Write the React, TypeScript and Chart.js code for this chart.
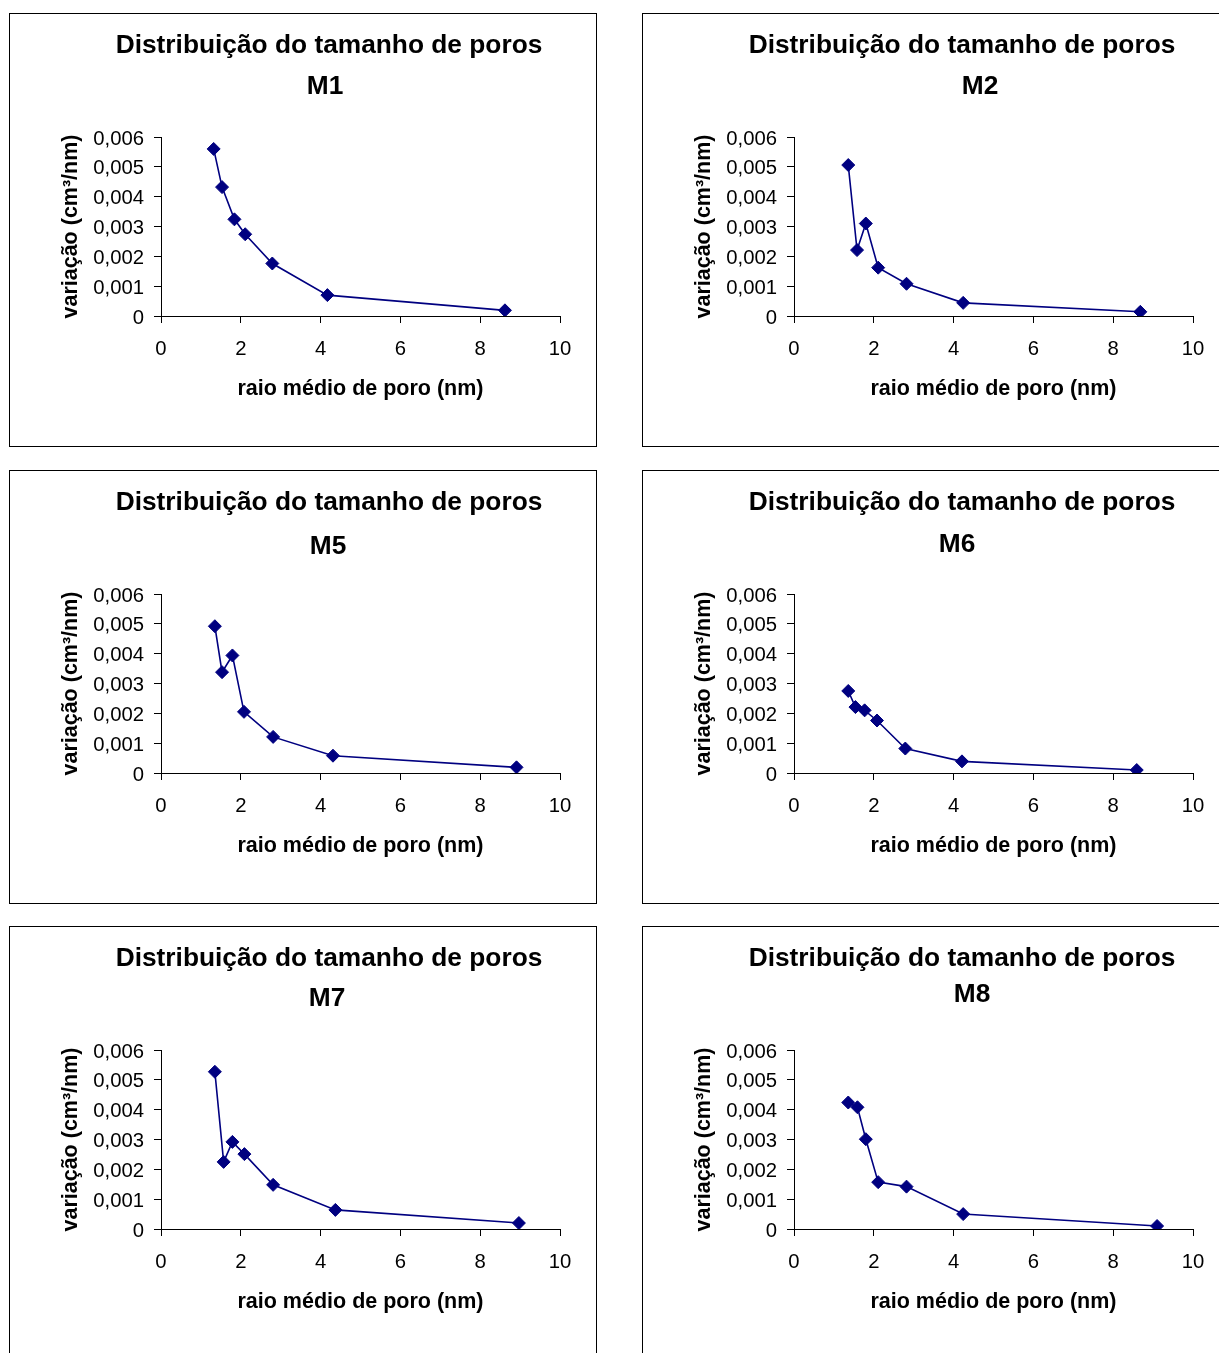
import { useEffect, useRef } from 'react';
import { Chart, registerables } from 'chart.js';

Chart.register(...registerables);

// Text
const CHART_TITLE = 'Distribuição do tamanho de poros';
const X_AXIS_LABEL = 'raio médio de poro (nm)';
const Y_AXIS_LABEL = 'variação (cm³/nm)';

// Axis ticks
const X_TICKS = [0, 2, 4, 6, 8, 10];
const Y_TICKS = [0, 0.001, 0.002, 0.003, 0.004, 0.005, 0.006];

// Mean pore radius (nm) and volume variation (cm³/nm) per sample
const m1Radius = [1.32, 1.53, 1.84, 2.11, 2.79, 4.17, 8.62];
const m1Variation = [0.0056, 0.00432, 0.00324, 0.00274, 0.00176, 0.0007, 0.00019];

const m2Radius = [1.36, 1.58, 1.8, 2.11, 2.82, 4.24, 8.68];
const m2Variation = [0.00506, 0.00221, 0.0031, 0.00162, 0.00108, 0.00044, 0.00014];

const m5Radius = [1.35, 1.53, 1.79, 2.08, 2.81, 4.31, 8.91];
const m5Variation = [0.00492, 0.00338, 0.00394, 0.00205, 0.00121, 0.00058, 0.00019];

const m6Radius = [1.36, 1.54, 1.77, 2.08, 2.79, 4.21, 8.59];
const m6Variation = [0.00275, 0.00221, 0.0021, 0.00176, 0.00082, 0.00039, 0.0001];

const m7Radius = [1.35, 1.57, 1.79, 2.09, 2.81, 4.37, 8.97];
const m7Variation = [0.00527, 0.00225, 0.00292, 0.00251, 0.00148, 0.00064, 0.0002];

const m8Radius = [1.36, 1.59, 1.8, 2.11, 2.82, 4.24, 9.1];
const m8Variation = [0.00424, 0.00408, 0.00301, 0.00157, 0.00142, 0.0005, 0.0001];

type Panel = {
  name: string;
  radius: number[];
  variation: number[];
  left: number;
  top: number;
  nameX: number;
  nameY: number;
};

const PANELS: Panel[] = [
  { name: 'M1', radius: m1Radius, variation: m1Variation, left: 9, top: 13, nameX: 315, nameY: 80 },
  { name: 'M2', radius: m2Radius, variation: m2Variation, left: 642, top: 13, nameX: 337, nameY: 80 },
  { name: 'M5', radius: m5Radius, variation: m5Variation, left: 9, top: 470, nameX: 318, nameY: 83 },
  { name: 'M6', radius: m6Radius, variation: m6Variation, left: 642, top: 470, nameX: 314, nameY: 81 },
  { name: 'M7', radius: m7Radius, variation: m7Variation, left: 9, top: 926, nameX: 317, nameY: 79 },
  { name: 'M8', radius: m8Radius, variation: m8Variation, left: 642, top: 926, nameX: 329, nameY: 75 },
];

const CANVAS_W = 586;
const CANVAS_H = 432;
const NAVY = '#000080';
const FONT = '"Liberation Sans", Arial, Helvetica, sans-serif';

// Draws the two-line title (main text + sample name) at fixed spots
const panelTitlePlugin = {
  id: 'panelTitle',
  afterDraw(chart: any, _args: any, opts: any) {
    const ctx: CanvasRenderingContext2D = chart.ctx;
    ctx.save();
    ctx.fillStyle = '#000';
    ctx.font = `bold 26.3px ${FONT}`;
    ctx.textAlign = 'center';
    ctx.textBaseline = 'alphabetic';
    ctx.fillText(opts.title, opts.titleX, opts.titleY);
    ctx.fillText(opts.name, opts.nameX, opts.nameY);
    ctx.restore();
  },
};

function PoreChart({ panel }: { panel: Panel }) {
  const ref = useRef<HTMLCanvasElement>(null);

  useEffect(() => {
    const points = panel.radius.map((x, i) => ({ x, y: panel.variation[i] }));
    const chart = new Chart(ref.current as HTMLCanvasElement, {
      type: 'scatter',
      data: {
        datasets: [
          {
            data: points,
            showLine: true,
            borderColor: NAVY,
            backgroundColor: NAVY,
            borderWidth: 1.6,
            pointStyle: 'rectRot',
            pointRadius: 6.5,
            pointBorderWidth: 1,
            pointBorderColor: NAVY,
            pointBackgroundColor: NAVY,
          },
        ],
      },
      options: {
        responsive: false,
        animation: false,
        events: [],
        layout: { padding: { left: 48, right: 36, top: 123, bottom: 44 } },
        plugins: {
          legend: { display: false },
          tooltip: { enabled: false },
          panelTitle: {
            title: CHART_TITLE,
            titleX: 319,
            titleY: 39,
            name: panel.name,
            nameX: panel.nameX,
            nameY: panel.nameY,
          },
        } as any,
        scales: {
          x: {
            type: 'linear',
            min: 0,
            max: 10,
            afterBuildTicks: (scale: any) => {
              scale.ticks = X_TICKS.map((value) => ({ value }));
            },
            afterFit: (scale: any) => {
              scale.height = 86;
            },
            border: { display: true, color: '#000', width: 1 },
            grid: {
              drawOnChartArea: false,
              drawTicks: true,
              tickLength: 7,
              color: '#000',
              lineWidth: 1,
            },
            ticks: {
              autoSkip: false,
              maxRotation: 0,
              padding: 14,
              color: '#000',
              font: { family: FONT, size: 20.3 },
              callback: (v: any) => String(v),
            },
            title: {
              display: true,
              text: X_AXIS_LABEL,
              color: '#000',
              padding: 0,
              font: { family: FONT, size: 21.5, weight: 'bold' },
            },
          },
          y: {
            type: 'linear',
            min: 0,
            max: 0.006,
            afterBuildTicks: (scale: any) => {
              scale.ticks = Y_TICKS.map((value) => ({ value }));
            },
            afterFit: (scale: any) => {
              scale.width = 103;
            },
            border: { display: true, color: '#000', width: 1 },
            grid: {
              drawOnChartArea: false,
              drawTicks: true,
              tickLength: 7,
              color: '#000',
              lineWidth: 1,
            },
            ticks: {
              autoSkip: false,
              padding: 10,
              labelOffset: 2,
              color: '#000',
              font: { family: FONT, size: 20.3 },
              callback: (v: any) => (Number(v) === 0 ? '0' : Number(v).toFixed(3).replace('.', ',')),
            },
            title: {
              display: true,
              text: Y_AXIS_LABEL,
              color: '#000',
              padding: 0,
              font: { family: FONT, size: 21.5, weight: 'bold' },
            },
          },
        },
      },
      plugins: [panelTitlePlugin],
    });
    return () => chart.destroy();
  }, [panel]);

  return (
    <div
      style={{
        position: 'absolute',
        left: panel.left,
        top: panel.top,
        width: CANVAS_W,
        height: CANVAS_H,
        border: '1px solid #000',
        background: '#fff',
      }}
    >
      <canvas ref={ref} width={CANVAS_W} height={CANVAS_H} style={{ display: 'block' }} />
    </div>
  );
}

export default function App() {
  return (
    <div
      style={{
        position: 'fixed',
        left: 0,
        top: 0,
        width: '100vw',
        height: '100vh',
        overflow: 'hidden',
        background: '#fff',
      }}
    >
      {PANELS.map((p) => (
        <PoreChart key={p.name} panel={p} />
      ))}
    </div>
  );
}
